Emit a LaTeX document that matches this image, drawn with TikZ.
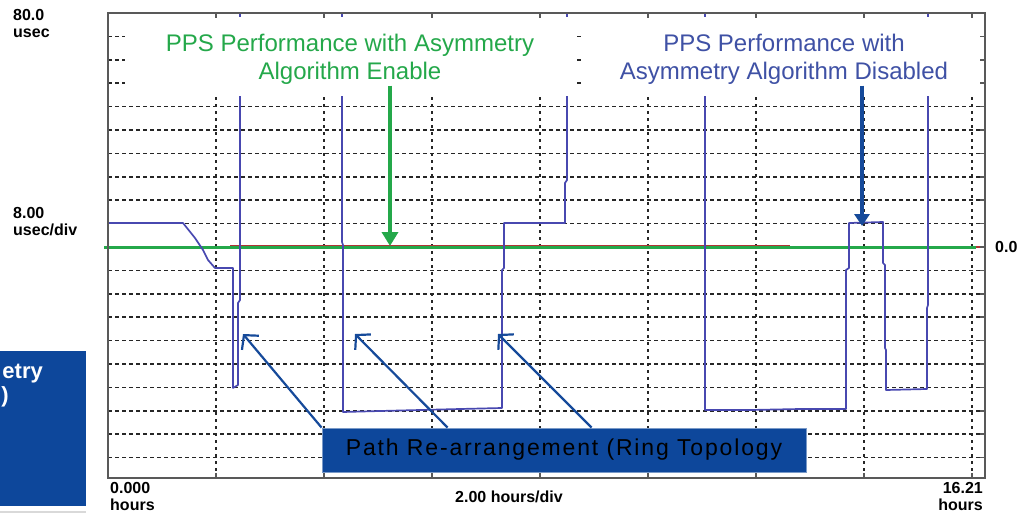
\documentclass[tikz,border=0pt]{standalone}
\usepackage{fontspec}
\setmainfont{Liberation Sans}
\usetikzlibrary{arrows.meta}

\definecolor{tracecol}{RGB}{72,72,176}
\definecolor{enablecol}{RGB}{36,168,74}
\definecolor{disablecol}{RGB}{63,81,165}
\definecolor{arrowblue}{RGB}{22,74,154}
\definecolor{boxblue}{RGB}{13,71,155}
\definecolor{refred}{RGB}{176,52,52}

\tikzset{
  hgrid/.style={black!85, line width=1.5pt, dash pattern=on 4pt off 3pt},
  vgrid/.style={black!85, line width=1.5pt, dash pattern=on 3pt off 4pt},
  pps/.style={tracecol, line width=1.7pt, line join=round},
  axislabel/.style={font=\fontsize{16}{18}\selectfont\bfseries, inner sep=0pt},
  callout/.style={align=center, font=\fontsize{24}{27.6}\selectfont, inner sep=1pt},
  pointer/.style={arrowblue, line width=2.2pt, -{Straight Barb[length=10pt,width=22pt]}},
  pathbox/.style={fill=boxblue, draw=boxblue!55!white, line width=0.8pt, minimum width=484pt,
    minimum height=44pt, text=black, font=\fontsize{23}{25}\selectfont\addfontfeatures{LetterSpace=8}}
}

\begin{document}
\begin{tikzpicture}[x=1pt, y=-1pt]
    \useasboundingbox (0,0) rectangle (1034,514);
    \foreach \k in {-9,...,-1,1,2,...,9}
        \draw[hgrid] (108,{247+23.4*(\k)}) -- (985,{247+23.4*(\k)});
    \foreach \x in {216,324,...,972}
        \draw[vgrid] (\x,13) -- (\x,478);
    \draw[refred, line width=1pt, dash pattern=on 8pt off 5pt] (108,248.8) -- (205,248.8);
    \draw[refred, line width=1pt] (230,245.2) -- (790,245.2);
    \draw[enablecol, line width=3pt] (104,247) -- (976,247);
    \draw[refred, line width=1.5pt] (976,247) -- (985,247);
    \draw[pps] (108,13) -- (108,223) -- (183,223) -- (195,238) -- (203,250) -- (208,260) -- (215,268)
        -- (233,268) -- (233,388) -- (238,385) -- (238,303) -- (240,300) -- (240,13);
    \draw[pps] (342,13) -- (342,242) -- (343,245) -- (343,412) -- (380,411) -- (420,410) -- (460,409)
        -- (502,408) -- (502,270) -- (504,268) -- (504,223) -- (565,223) -- (565,183) -- (567,180) -- (567,13);
    \draw[pps] (705,13) -- (705,410) -- (750,410) -- (800,409) -- (846,409) -- (846,270) -- (849,268)
        -- (849,223) -- (883,222) -- (883,263) -- (885,265) -- (885,348) -- (886,350) -- (886,390)
        -- (927,389) -- (927,308) -- (928,305) -- (928,13);
    \fill[white] (125,17) rectangle (576,96);
    \fill[white] (583,17) rectangle (982,96);
    \draw[black!65, line width=2pt] (108,13) rectangle (985,478);
    \foreach \x in {216,324,...,972} {
        \draw[black!65, line width=1.5pt] (\x,13) -- (\x,18);
        \draw[black!65, line width=1.5pt] (\x,478) -- (\x,473);
    }
    \foreach \k in {-9,...,9}
        \draw[black!65, line width=1.5pt] (985,{247+23.4*(\k)}) -- (980,{247+23.4*(\k)});

    \node[axislabel, anchor=base west] (top) at (13,20) {80.0};
    \node[axislabel, anchor=base west] (topunit) at (13,37) {usec};
    \node[axislabel, anchor=base west] (scale) at (13,218) {8.00};
    \node[axislabel, anchor=base west] (scaleunit) at (13,235) {usec/div};
    \node[axislabel, anchor=base west] (zero) at (995,252) {0.0};
    \node[axislabel, anchor=base west] (start) at (110,493) {0.000};
    \node[axislabel, anchor=base west] (startunit) at (110,510) {hours};
    \node[axislabel, anchor=base east] (stop) at (983,493) {16.21};
    \node[axislabel, anchor=base east] (stopunit) at (983,510) {hours};
    \node[axislabel, anchor=base] (timescale) at (509,502) {2.00 hours/div};

    \node[callout, enablecol] (enabletxt) at (350,59.5) {PPS Performance with Asymmetry\\Algorithm Enable};
    \node[callout, disablecol] (disabletxt) at (784,59.5) {PPS Performance with\\Asymmetry Algorithm Disabled};
    \coordinate (enableon) at (390,246);
    \coordinate (disableon) at (862,226);
    \draw[enablecol, line width=4pt, -{Triangle[length=14pt,width=16pt]}] (enabletxt.south -| enableon) -- (enableon);
    \draw[arrowblue, line width=4pt, -{Triangle[length=12pt,width=15pt]}] (disabletxt.south -| disableon) -- (disableon);

    \node[pathbox] (rearrange) at (564,450) {Path Re-arrangement (Ring Topology};
    \coordinate (jump1) at (243,334);
    \coordinate (jump2) at (355,334);
    \coordinate (jump3) at (498,334);
    \draw[pointer] (rearrange.north west) -- (jump1);
    \draw[pointer] ([xshift=126pt]rearrange.north west) -- (jump2);
    \draw[pointer] ([xshift=270pt]rearrange.north west) -- (jump3);

    \fill[boxblue] (0,351) rectangle (86,506);
    \draw[black!15, line width=2pt] (0,512) -- (86,512);
    \node[font=\fontsize{22}{24}\selectfont\bfseries, text=white, inner sep=0pt, anchor=base east] (sidetop) at (43,378) {etry};
    \node[font=\fontsize{22}{24}\selectfont\bfseries, text=white, inner sep=0pt, anchor=base east] (sidebot) at (9,402) {)};
\end{tikzpicture}
\end{document}
